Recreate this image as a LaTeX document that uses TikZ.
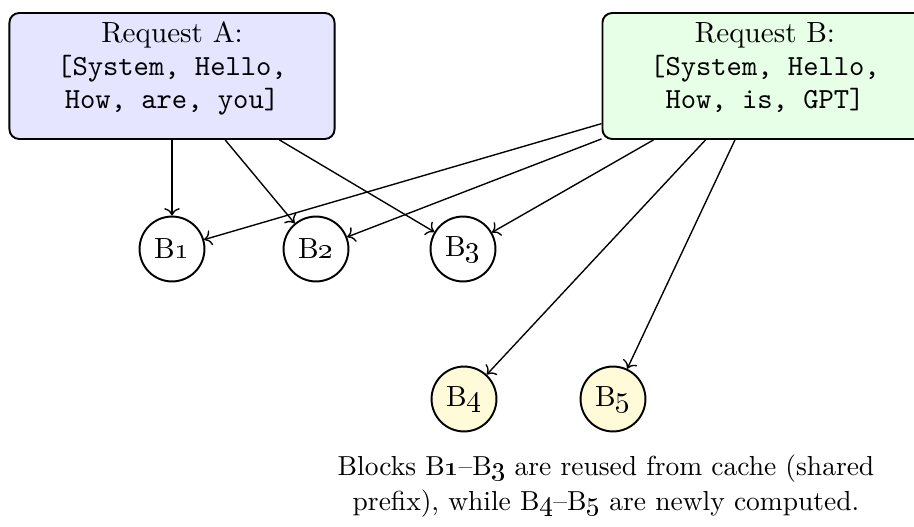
\documentclass[tikz,border=0pt]{standalone}
\usetikzlibrary{arrows.meta}
\definecolor{reqA}{RGB}{229,229,255}
\definecolor{reqB}{RGB}{230,255,230}
\definecolor{newblk}{RGB}{255,250,215}
\newcommand{\blk}[1]{B\oldstylenums{#1}}
% three centred lines, drawn slightly above the middle of the request box
\newcommand{\reqtext}[3]{\raisebox{2.6pt}[\height][\depth]{\begin{tabular}{@{}c@{}}#1\\#2\\#3\end{tabular}}}
\begin{document}
\begin{tikzpicture}[x=0.3636pt,y=-0.3636pt,
  every node/.style={font=\fontsize{10.6}{12}\selectfont},
  request/.style={draw,line width=0.7pt,rounded corners=3.5pt,
    minimum width=118.2pt,minimum height=45.8pt,inner sep=0pt},
  block/.style={draw,circle,line width=0.7pt,minimum size=23.6pt,inner sep=0pt},
  fresh/.style={block,fill=newblk},
  link/.style={->,line width=0.5pt}]
\useasboundingbox (0,0) rectangle (914,527);
\node[request,fill=reqA] (A) at (172,76)
  {\reqtext{Request A:}{\texttt{[System, Hello,}}{\texttt{How, are, you]}}};
\node[request,fill=reqB] (B) at (765,76)
  {\reqtext{Request B:}{\texttt{[System, Hello,}}{\texttt{How, is, GPT]}}};
\node[block] (b1) at (172,249) {\blk{1}};
\node[block] (b2) at (316,249) {\blk{2}};
\node[block] (b3) at (463,249) {\blk{3}};
\node[fresh] (b4) at (464,399) {\blk{4}};
\node[fresh] (b5) at (613,399) {\blk{5}};
\node[align=center,font=\fontsize{10}{12.6}\selectfont] (note) at (606,486)
  {Blocks \blk{1}--\blk{3} are reused from cache (shared\\
   prefix), while \blk{4}--\blk{5} are newly computed.};
\draw[link] (A) -- (b1);
\draw[link] (A) -- (b2);
\draw[link] (A) -- (b3);
\draw[link] (B) -- (b1);
\draw[link] (B) -- (b2);
\draw[link] (B) -- (b3);
\draw[link] (B) -- (b4);
\draw[link] (B) -- (b5);
\end{tikzpicture}
\end{document}
